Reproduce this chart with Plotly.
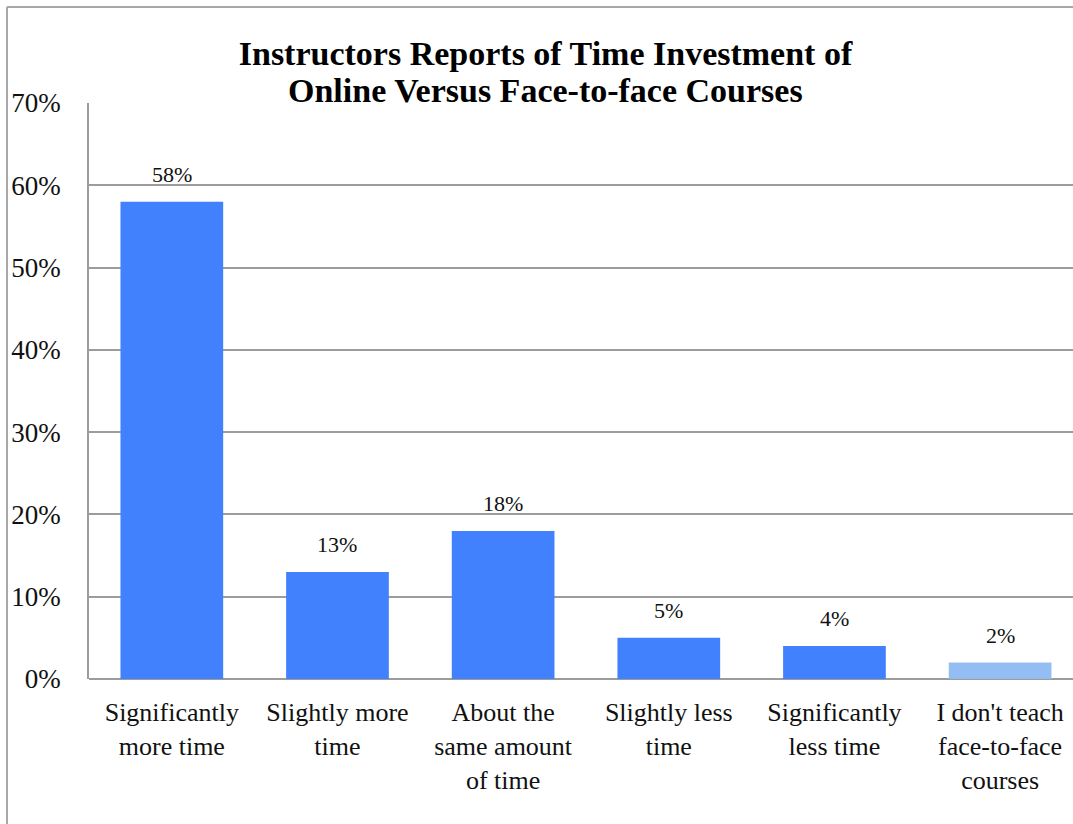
import plotly.graph_objects as go

# Survey responses: share of instructors per answer
categories = [
    "Significantly more time",
    "Slightly more time",
    "About the same amount of time",
    "Slightly less time",
    "Significantly less time",
    "I don't teach face-to-face courses",
]
tick_labels = [
    "Significantly<br>more time",
    "Slightly more<br>time",
    "About the<br>same amount<br>of time",
    "Slightly less<br>time",
    "Significantly<br>less time",
    "I don't teach<br>face-to-face<br>courses",
]
percent = [58, 13, 18, 5, 4, 2]
y_ticks = [0, 10, 20, 30, 40, 50, 60, 70]
title_lines = [
    "Instructors Reports of Time Investment of",
    "Online Versus Face-to-face Courses",
]

BLUE = "#4281FD"
LIGHT_BLUE = "#93BDF3"
bar_colors = [BLUE] * 5 + [LIGHT_BLUE]
FONT = "Liberation Serif, Times New Roman, serif"
GRID = "#9c9c9c"

W, H = 1073, 824
ML, MR, MT, MB = 89, 0, 103, 145
pw, ph = W - ML - MR, H - MT - MB

fig = go.Figure(
    go.Bar(
        x=categories,
        y=percent,
        marker=dict(color=bar_colors, line=dict(width=0)),
        width=0.62,
        hoverinfo="skip",
    )
)

# value labels above each bar
for cat, val in zip(categories, percent):
    fig.add_annotation(
        x=cat, y=val, xref="x", yref="y",
        text=f"{val}%", showarrow=False,
        yanchor="bottom", yshift=13,
        font=dict(family=FONT, size=22, color="#111111"),
    )

# second title line, set just under the main title
fig.add_annotation(
    x=(545 - ML) / pw, xref="paper",
    y=(H - MB - 90) / ph, yref="paper",
    text=f"<b>{title_lines[1]}</b>", showarrow=False,
    xanchor="center", yanchor="middle",
    font=dict(family=FONT, size=34, color="#000000"),
)

# chart frame (left and top edges)
fx = (7 - ML) / pw
fy_top = (H - MB - 7) / ph
fy_bot = (H - MB - H) / ph
fig.add_shape(type="line", xref="paper", yref="paper",
              x0=fx, x1=fx, y0=fy_bot, y1=fy_top,
              line=dict(color="#a8a8a8", width=2))
fig.add_shape(type="line", xref="paper", yref="paper",
              x0=fx, x1=1.02, y0=fy_top, y1=fy_top,
              line=dict(color="#a8a8a8", width=2))

fig.update_layout(
    width=W, height=H,
    margin=dict(l=ML, r=MR, t=MT, b=MB, pad=0),
    paper_bgcolor="white",
    plot_bgcolor="white",
    showlegend=False,
    font=dict(family=FONT, color="#111111"),
    title=dict(
        text=f"<b>{title_lines[0]}</b>",
        x=545.5 / W, xanchor="center",
        y=1 - 53 / H, yref="container", yanchor="middle",
        font=dict(family=FONT, size=34, color="#000000"),
    ),
    xaxis=dict(
        range=[-0.5, 5.44],
        tickvals=categories,
        ticktext=tick_labels,
        showgrid=False,
        showline=False,
        ticks="",
        ticklabelstandoff=15,
        tickfont=dict(family=FONT, size=26, color="#111111"),
    ),
    yaxis=dict(
        range=[0, 70],
        tickvals=y_ticks,
        ticktext=[f"{v}%" for v in y_ticks],
        showgrid=True,
        gridcolor=GRID,
        gridwidth=1.5,
        zeroline=True,
        zerolinecolor=GRID,
        zerolinewidth=1.5,
        showline=True,
        linecolor=GRID,
        linewidth=1.5,
        ticks="",
        ticklabelstandoff=21,
        tickfont=dict(family=FONT, size=27, color="#111111"),
    ),
    bargap=0.38,
)

fig.write_html("out.html")
